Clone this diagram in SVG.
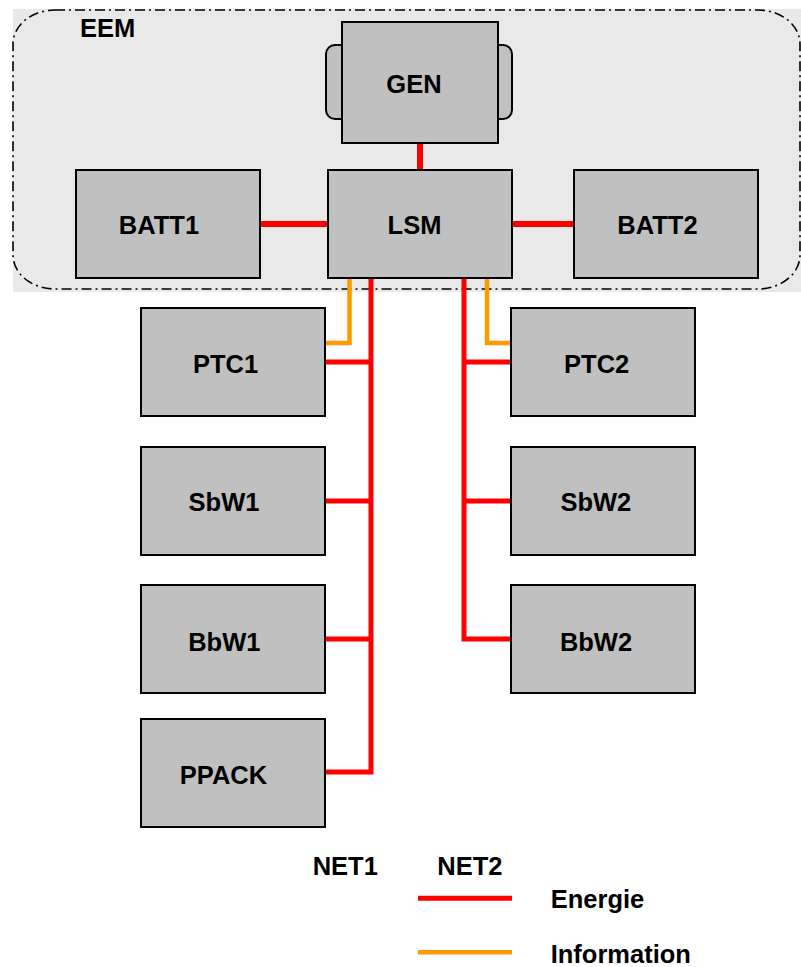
<svg xmlns="http://www.w3.org/2000/svg" width="801" height="967" viewBox="0 0 801 967">
<style>
.box{fill:#c0c0c0;stroke:#000;stroke-width:2}
.lbl{font-family:"Liberation Sans",Arial,sans-serif;font-weight:bold;font-size:25.5px;fill:#000;text-anchor:middle}
.lg{font-family:"Liberation Sans",Arial,sans-serif;font-weight:bold;font-size:25.5px;fill:#000}
.en{stroke:#ff0000;stroke-width:5;fill:none}
.en6{stroke:#ff0000;stroke-width:6;fill:none}
.inf{stroke:#ff9900;stroke-width:4.5;fill:none}
</style>
<rect width="801" height="967" fill="#fff"/>
<g id="EEM">
<rect x="13" y="9" width="788" height="283" fill="#e9e9e9"/>
<rect x="13" y="10" width="787" height="279" rx="42" ry="34" fill="none" stroke="#000" stroke-width="1.6" stroke-dasharray="10 4 2 4"/>
<text class="lg" x="80" y="37">EEM</text>
</g>
<g id="connectors">
<line class="en6" x1="420" y1="143" x2="420" y2="170"/>
<line class="en6" x1="260" y1="224" x2="328" y2="224"/>
<line class="en6" x1="512" y1="224" x2="574" y2="224"/>
<polyline class="inf" points="349.5,278 349.5,343 325,343"/>
<polyline class="inf" points="487,278 487,343 511,343"/>
<polyline class="en" points="371,278 371,772 325,772"/>
<line class="en" x1="325" y1="362" x2="371" y2="362"/>
<line class="en" x1="325" y1="501" x2="371" y2="501"/>
<line class="en" x1="325" y1="639" x2="371" y2="639"/>
<polyline class="en" points="464,278 464,639 511,639"/>
<line class="en" x1="464" y1="362" x2="511" y2="362"/>
<line class="en" x1="464" y1="501" x2="511" y2="501"/>
</g>
<g id="GEN">
<rect class="box" x="326" y="45" width="186" height="74" rx="9" stroke-width="1.5"/>
<rect class="box" x="342" y="22" width="156" height="121"/>
<text class="lbl" x="414" y="93">GEN</text>
</g>
<g id="BATT1">
<rect class="box" x="76" y="170" width="184" height="108"/>
<text class="lbl" x="159" y="234">BATT1</text>
</g>
<g id="LSM">
<rect class="box" x="328" y="170" width="184" height="108"/>
<text class="lbl" x="414.5" y="234">LSM</text>
</g>
<g id="BATT2">
<rect class="box" x="574" y="170" width="184" height="108"/>
<text class="lbl" x="657.5" y="234">BATT2</text>
</g>
<g id="PTC1">
<rect class="box" x="141" y="308" width="184" height="108"/>
<text class="lbl" x="225.5" y="372.5">PTC1</text>
</g>
<g id="SbW1">
<rect class="box" x="141" y="447" width="184" height="108"/>
<text class="lbl" x="224" y="511">SbW1</text>
</g>
<g id="BbW1">
<rect class="box" x="141" y="585" width="184" height="108"/>
<text class="lbl" x="224.3" y="650.5">BbW1</text>
</g>
<g id="PPACK">
<rect class="box" x="141" y="719" width="184" height="108"/>
<text class="lbl" x="223.5" y="784">PPACK</text>
</g>
<g id="PTC2">
<rect class="box" x="511" y="308" width="184" height="108"/>
<text class="lbl" x="596.7" y="372.5">PTC2</text>
</g>
<g id="SbW2">
<rect class="box" x="511" y="447" width="184" height="108"/>
<text class="lbl" x="595.8" y="511">SbW2</text>
</g>
<g id="BbW2">
<rect class="box" x="511" y="585" width="184" height="108"/>
<text class="lbl" x="596" y="650.5">BbW2</text>
</g>
<g id="legend">
<text class="lg" x="312.7" y="875">NET1</text>
<text class="lg" x="437.3" y="875">NET2</text>
<line class="en" x1="418" y1="898.3" x2="512" y2="898.3"/>
<line class="inf" x1="418" y1="952.3" x2="512" y2="952.3" stroke-width="5"/>
<text class="lg" x="550.7" y="908">Energie</text>
<text class="lg" x="550.7" y="962.5">Information</text>
</g>
</svg>
